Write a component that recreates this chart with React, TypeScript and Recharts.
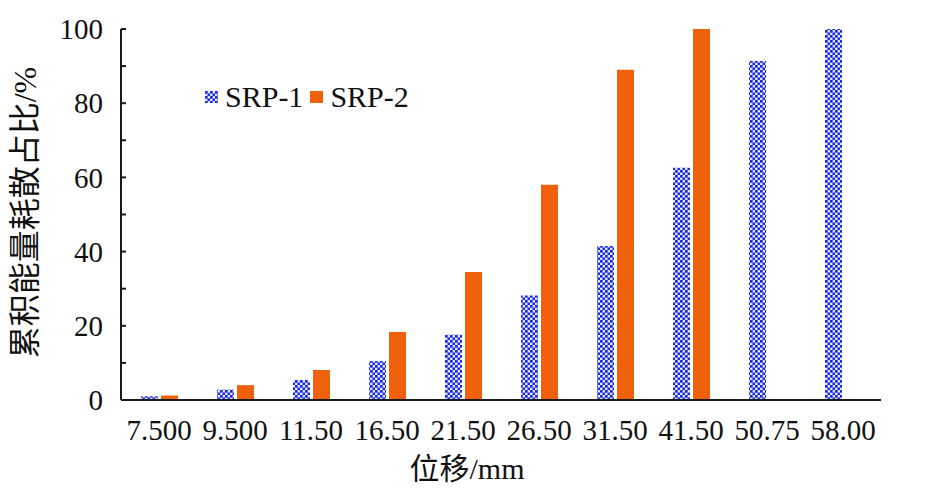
import React from 'react';
import { BarChart, Bar, XAxis, YAxis, Legend } from 'recharts';

const categories = ['7.500', '9.500', '11.50', '16.50', '21.50', '26.50', '31.50', '41.50', '50.75', '58.00'];
const srp1 = [1.0, 2.8, 5.4, 10.5, 17.6, 28.2, 41.5, 62.6, 91.4, 100];
const srp2: (number | null)[] = [1.2, 4.0, 8.1, 18.3, 34.5, 58.0, 89.0, 100, null, null];
const yTicks = [0, 10, 20, 30, 40, 50, 60, 70, 80, 90, 100];
const seriesNames = ['SRP-1', 'SRP-2'];

const data = categories.map((c, i) => ({ name: c, srp1: srp1[i], srp2: srp2[i] }));

const SERIF = "'Liberation Serif', 'Times New Roman', 'Noto Sans CJK SC', serif";

const PatternDefs = () => (
  <svg width={0} height={0} style={{ position: 'absolute' }}>
    <defs>
      <pattern id="bluePat" patternUnits="userSpaceOnUse" width={5} height={5}>
        <rect x={0} y={0} width={5} height={5} fill="#e4e6ff" />
        <rect x={0} y={0} width={2.7} height={2.7} fill="#1a2ce2" />
        <rect x={2.5} y={2.5} width={2.7} height={2.7} fill="#1a2ce2" />
      </pattern>
      <pattern id="orangePat" patternUnits="userSpaceOnUse" width={4} height={4}>
        <rect x={0} y={0} width={4} height={4} fill="#f26510" />
        <rect x={0} y={0} width={2} height={2} fill="#ee5c08" />
        <rect x={2} y={2} width={2} height={2} fill="#ee5c08" />
      </pattern>
    </defs>
  </svg>
);

const fills = ['url(#bluePat)', 'url(#orangePat)'];

const LegendContent = () => (
  <div style={{ display: 'flex', alignItems: 'center', fontFamily: SERIF, fontSize: 30, color: '#111', lineHeight: '30px' }}>
    {seriesNames.map((n, i) => (
      <div key={n} style={{ display: 'flex', alignItems: 'center', marginRight: 7 }}>
        <svg width={13} height={12} style={{ marginRight: 7 }}>
          <rect x={0} y={0} width={13} height={12} fill={fills[i]} />
        </svg>
        <span>{n}</span>
      </div>
    ))}
  </div>
);

export default function App() {
  return (
    <div style={{ position: 'absolute', left: 0, top: 0, width: 937, height: 496, background: '#fff' }}>
      <PatternDefs />
      <BarChart
        width={937}
        height={496}
        data={data}
        margin={{ top: 29, right: 56, left: 0, bottom: 0 }}
        barSize={17}
        barGap={3}
      >
        <XAxis
          dataKey="name"
          height={96}
          tickLine={false}
          tickSize={0}
          tickMargin={19}
          interval={0}
          axisLine={{ stroke: '#1a1a1a', strokeWidth: 2 }}
          tick={{ fontFamily: SERIF, fontSize: 29, fill: '#111' }}
          label={{
            content: (props: any) => {
              const vb = props.viewBox || {};
              const cx = (vb.x ?? 121) + (vb.width ?? 760) / 2 - 34;
              return (
                <text x={cx} y={479} textAnchor="middle" fontFamily={SERIF} fontSize={30} fill="#111">
                  位移/mm
                </text>
              );
            },
          }}
        />
        <YAxis
          width={121}
          domain={[0, 100]}
          ticks={yTicks}
          interval={0}
          tickSize={-5}
          tickMargin={23}
          tickFormatter={(v: number) => (v % 20 === 0 ? String(v) : '')}
          axisLine={{ stroke: '#1a1a1a', strokeWidth: 2 }}
          tickLine={{ stroke: '#1a1a1a', strokeWidth: 2 }}
          tick={{ fontFamily: SERIF, fontSize: 29, fill: '#111' }}
          label={{
            content: (props: any) => {
              const vb = props.viewBox || {};
              const cy = (vb.y ?? 29) + (vb.height ?? 371) / 2 - 2;
              return (
                <text
                  x={25}
                  y={cy}
                  transform={`rotate(-90 25 ${cy})`}
                  textAnchor="middle"
                  dominantBaseline="central"
                  fontFamily={SERIF}
                  fontSize={32}
                  fill="#111"
                >
                  累积能量耗散占比/%
                </text>
              );
            },
          }}
        />
        <Legend
          layout="vertical"
          verticalAlign="middle"
          align="center"
          content={() => <LegendContent />}
          wrapperStyle={{ position: 'absolute', left: 205, top: 82, width: 'auto', height: 'auto' }}
        />
        <Bar dataKey="srp1" name="SRP-1" fill="url(#bluePat)" isAnimationActive={false} />
        <Bar dataKey="srp2" name="SRP-2" fill="url(#orangePat)" isAnimationActive={false} />
      </BarChart>
    </div>
  );
}
